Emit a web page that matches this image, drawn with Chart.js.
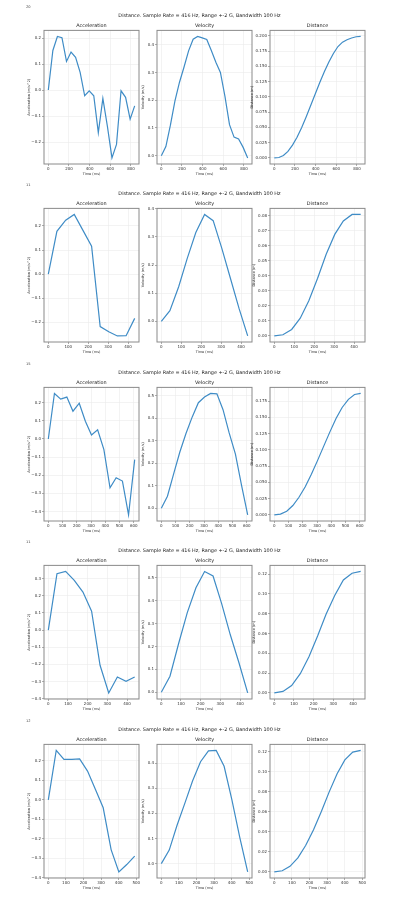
<!DOCTYPE html>
<html>
<head>
<meta charset="utf-8">
<script src="https://cdn.jsdelivr.net/npm/chart.js@4.4.1/dist/chart.umd.min.js"></script>
<style>
  body { margin: 0; background: #fff; width: 398px; height: 899px; position: relative; overflow: hidden; font-family: "DejaVu Sans", sans-serif; }
  .box { position: absolute; }
  .sup { position: absolute; left: 0; width: 399px; text-align: center; font-size: 4.9px; line-height: 6px; color: #222; white-space: nowrap; will-change: transform; -webkit-font-smoothing: antialiased; }
  .run { position: absolute; left: 26px; font-size: 3.6px; line-height: 4px; color: #444; will-change: transform; -webkit-font-smoothing: antialiased; }
</style>
</head>
<body>
<script>
const FONT = "'DejaVu Sans', sans-serif";
const SUPTITLE = 'Distance. Sample Rate = 416 Hz, Range +-2 G, Bandwidth 100 Hz';
const runLabels = ['20', '11', '15', '11', '12'];
const panelTitles = ['Acceleration', 'Velocity', 'Distance'];
const yTitles = ['Acceleration (m/s^2)', 'Velocity (m/s)', 'Distance (m)'];

// run 1
const time1 = [0, 44, 88, 132, 176, 220, 264, 308, 352, 396, 440, 484, 528, 572, 616, 660, 704, 748, 792, 836];
const accel1 = [0, 0.152, 0.206, 0.201, 0.110, 0.146, 0.126, 0.068, -0.022, -0.003, -0.022, -0.164, -0.032, -0.140, -0.261, -0.209, -0.003, -0.028, -0.112, -0.061];
const vel1 = [0, 0.033, 0.110, 0.198, 0.265, 0.320, 0.378, 0.420, 0.430, 0.425, 0.419, 0.379, 0.337, 0.300, 0.214, 0.112, 0.067, 0.060, 0.030, -0.008];
const dist1 = [0, 0.0007, 0.0039, 0.0107, 0.0210, 0.0339, 0.0494, 0.0671, 0.0859, 0.1048, 0.1235, 0.1412, 0.1571, 0.1712, 0.1826, 0.1898, 0.1937, 0.1966, 0.1986, 0.1991];

// run 2
const time2 = [0, 43, 87, 130, 173, 217, 260, 303, 346, 390, 433];
const accel2 = [0, 0.178, 0.224, 0.248, 0.183, 0.116, -0.218, -0.240, -0.257, -0.256, -0.184];
const vel2 = [0, 0.038, 0.123, 0.224, 0.316, 0.380, 0.358, 0.260, 0.154, 0.045, -0.052];
const dist2 = [0, 0.0008, 0.0043, 0.0118, 0.0235, 0.0385, 0.0544, 0.0677, 0.0767, 0.0810, 0.0810];

// run 3
const time3 = [0, 43, 87, 130, 173, 217, 260, 303, 346, 390, 433, 476, 520, 563, 606];
const accel3 = [0, 0.251, 0.220, 0.231, 0.153, 0.197, 0.098, 0.022, 0.050, -0.059, -0.269, -0.214, -0.232, -0.419, -0.114];
const vel3 = [0, 0.053, 0.153, 0.249, 0.331, 0.405, 0.468, 0.493, 0.509, 0.507, 0.437, 0.334, 0.240, 0.101, -0.030];
const dist3 = [0, 0.0012, 0.0057, 0.0145, 0.0272, 0.0433, 0.0624, 0.0835, 0.1054, 0.1277, 0.1483, 0.1652, 0.1778, 0.1852, 0.1868];

// run 4
const time4 = [0, 44, 88, 132, 176, 220, 263, 307, 351, 395, 439];
const accel4 = [0, 0.328, 0.341, 0.289, 0.221, 0.110, -0.205, -0.366, -0.273, -0.298, -0.273];
const vel4 = [0, 0.070, 0.213, 0.348, 0.457, 0.528, 0.508, 0.386, 0.250, 0.128, -0.003];
const dist4 = [0, 0.0015, 0.0075, 0.0194, 0.0365, 0.0574, 0.0793, 0.0983, 0.1140, 0.1208, 0.1226];

// run 5
const time5 = [0, 45, 89, 134, 178, 223, 268, 312, 357, 401, 446, 491];
const accel5 = [0, 0.254, 0.208, 0.208, 0.211, 0.148, 0.053, -0.041, -0.256, -0.371, -0.333, -0.290];
const vel5 = [0, 0.054, 0.152, 0.241, 0.330, 0.406, 0.449, 0.451, 0.388, 0.255, 0.105, -0.033];
const dist5 = [0, 0.0012, 0.0056, 0.0140, 0.0263, 0.0421, 0.0605, 0.0798, 0.0979, 0.1117, 0.1194, 0.1211];

// tick steps per run
const timeSteps = [200, 100, 100, 100, 100];
const distSteps = [0.025, 0.01, 0.025, 0.02, 0.02];
const distDecimals = [3, 2, 3, 2, 2];

const runs = [
  [time1, accel1, vel1, dist1],
  [time2, accel2, vel2, dist2],
  [time3, accel3, vel3, dist3],
  [time4, accel4, vel4, dist4],
  [time5, accel5, vel5, dist5]
];

// layout
const rowTops = [23, 201, 380, 558, 737];
const colLefts = [22, 135, 248];
const BOX_W = 122, BOX_H = 155;
const TICK = 4.0, LABEL = 3.5, TITLE = 4.9;

const framePlugin = {
  id: 'frame',
  afterDatasetsDraw(chart) {
    const { ctx, chartArea: a } = chart;
    ctx.save();
    ctx.strokeStyle = '#8a8a8a';
    ctx.lineWidth = 1;
    ctx.strokeRect(a.left, a.top, a.right - a.left, a.bottom - a.top);
    ctx.restore();
  }
};

function fmt(v, d) {
  const s = Math.abs(v).toFixed(d);
  return (v < -1e-9 ? '\u2212' : '') + s;
}

function makeChart(left, top, title, yTitle, yPad, times, vals, xStep, yStep, yDec) {
  const div = document.createElement('div');
  div.className = 'box';
  div.style.left = left + 'px';
  div.style.top = top + 'px';
  div.style.width = BOX_W + 'px';
  div.style.height = BOX_H + 'px';
  const cv = document.createElement('canvas');
  div.appendChild(cv);
  document.body.appendChild(div);

  const T = times[times.length - 1];
  const lo = Math.min(...vals), hi = Math.max(...vals), pad = (hi - lo) * 0.05;

  new Chart(cv, {
    type: 'line',
    data: {
      datasets: [{
        data: times.map((t, i) => ({ x: t, y: vals[i] })),
        borderColor: '#3f8cc6',
        borderWidth: 1.2,
        pointRadius: 0,
        tension: 0,
        fill: false
      }]
    },
    options: {
      responsive: true,
      maintainAspectRatio: false,
      animation: false,
      layout: { padding: { left: 0, right: 5, top: 0, bottom: 0 } },
      plugins: {
        legend: { display: false },
        tooltip: { enabled: false },
        title: {
          display: true, text: title, fullSize: false, color: '#222',
          font: { family: FONT, size: TITLE, weight: 'normal' },
          padding: { top: 0, bottom: 1.5 }
        }
      },
      scales: {
        x: {
          type: 'linear', min: -0.05 * T, max: 1.05 * T,
          afterFit: s => { s.height = 14; },
          border: { display: false },
          grid: { color: '#ebebeb', lineWidth: 0.6, tickLength: 2, tickColor: '#777' },
          ticks: {
            stepSize: xStep, includeBounds: false, padding: 0.5, maxRotation: 0, autoSkip: false,
            color: '#333', font: { family: FONT, size: TICK },
            callback: v => String(v)
          },
          title: {
            display: true, text: 'Time (ms)', color: '#333',
            font: { family: FONT, size: LABEL }, padding: { top: 0, bottom: 1.9 }
          }
        },
        y: {
          min: lo - pad, max: hi + pad,
          afterFit: s => { s.width = 22; },
          border: { display: false },
          grid: { color: '#ebebeb', lineWidth: 0.6, tickLength: 2, tickColor: '#777' },
          ticks: {
            stepSize: yStep, includeBounds: false, padding: 1, autoSkip: false,
            color: '#333', font: { family: FONT, size: TICK },
            callback: v => fmt(v, yDec)
          },
          title: {
            display: true, text: yTitle, color: '#333',
            font: { family: FONT, size: LABEL }, padding: { top: yPad, bottom: 0 }
          }
        }
      }
    },
    plugins: [framePlugin]
  });
}

runs.forEach((run, r) => {
  const top = rowTops[r];
  const frameTop = top + 7.5;

  const lab = document.createElement('div');
  lab.className = 'run';
  lab.style.top = (frameTop - 26) + 'px';
  lab.textContent = runLabels[r];
  document.body.appendChild(lab);

  const sup = document.createElement('div');
  sup.className = 'sup';
  sup.style.top = (frameTop - 18.5) + 'px';
  sup.textContent = SUPTITLE;
  document.body.appendChild(sup);

  const [t, a, v, d] = run;
  const distPad = distDecimals[r] === 3 ? 1.9 : 3.9;
  makeChart(colLefts[0], top, panelTitles[0], yTitles[0], 4.6, t, a, timeSteps[r], 0.1, 1);
  makeChart(colLefts[1], top, panelTitles[1], yTitles[1], 6.2, t, v, timeSteps[r], 0.1, 1);
  makeChart(colLefts[2], top, panelTitles[2], yTitles[2], distPad, t, d, timeSteps[r], distSteps[r], distDecimals[r]);
});
</script>
</body>
</html>
